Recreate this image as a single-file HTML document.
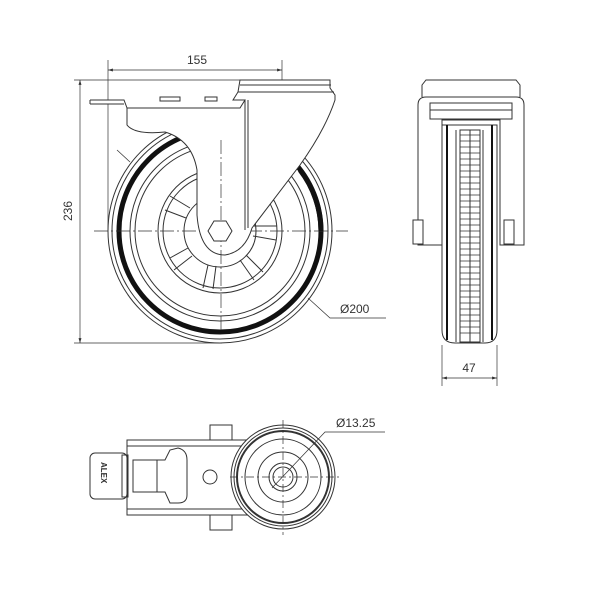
<!DOCTYPE html>
<html><head><meta charset="utf-8"><style>
html,body{margin:0;padding:0;background:#fff;}
svg{display:block;}
text{font-family:"Liberation Sans",sans-serif;font-size:12px;fill:#333;}
</style></head><body>
<svg width="600" height="600" viewBox="0 0 600 600" xmlns="http://www.w3.org/2000/svg">
<defs>
<marker id="ar" viewBox="0 0 10 10" refX="10" refY="5" markerWidth="7" markerHeight="7" orient="auto-start-reverse"><path d="M0,2 L10,5 L0,8 z" fill="#333"/></marker>
</defs>
<g stroke="#333" fill="none" stroke-width="1">
<line x1="108" y1="60" x2="108" y2="230" stroke-width="0.7"/>
<line x1="282" y1="60" x2="282" y2="100" stroke-width="0.7"/>
<line x1="108" y1="70" x2="282" y2="70" stroke-width="0.7" marker-start="url(#ar)" marker-end="url(#ar)"/>
<line x1="74" y1="80" x2="330" y2="80" stroke-width="0.7"/>
<line x1="74" y1="343" x2="222" y2="343" stroke-width="0.7"/>
<line x1="80" y1="80" x2="80" y2="343" stroke-width="0.7" marker-start="url(#ar)" marker-end="url(#ar)"/>
<circle cx="220" cy="231" r="112" fill="#fff"/>
<circle cx="220" cy="231" r="108"/>
<circle cx="220" cy="231" r="101" stroke="#111" stroke-width="5"/>
<circle cx="220" cy="231" r="90"/>
<circle cx="220" cy="231" r="85"/>
<circle cx="220" cy="231" r="62"/>
<circle cx="220" cy="231" r="57"/>
<circle cx="220" cy="231" r="36"/>
<g stroke-width="1">
<path d="M188,248 L170,258 M192,256 L174,270"/>
<path d="M208,265 L203,288 M216,266 L213,289"/>
<path d="M240,260 L254,280 M246,255 L263,272"/>
<path d="M253,236 L276,240 M254,226 L277,226"/>
<path d="M186,218 L165,210 M190,208 L170,196"/>
</g>
<line x1="94" y1="231" x2="348" y2="231" stroke-width="0.7" stroke-dasharray="14,3,2,3"/>
<path d="M90,100 L124,100 L127,108 L127,125 Q135,135 165,132 Q192,140 197,170 L197,215 Q200,255 225,255 Q245,252 252,228 L300,165 Q325,130 335,100 L335,95 L330,88 L330,80 L240,80 L238,92 L233,100 L245,100 L240,108 L127,108" fill="#fff"/>
<line x1="90" y1="100" x2="90" y2="104"/>
<line x1="90" y1="104" x2="124" y2="104"/>
<line x1="248" y1="100" x2="248" y2="228"/>
<line x1="245" y1="100" x2="245" y2="230"/>
<line x1="238" y1="92" x2="334" y2="92"/>
<line x1="240" y1="85" x2="331" y2="85"/>
<rect x="160" y="97" width="20" height="4"/>
<rect x="205" y="97" width="12" height="4"/>
<line x1="221" y1="140" x2="221" y2="330" stroke-width="0.7" stroke-dasharray="14,3,2,3"/>
<polygon points="232,231 226,241 214,241 208,231 214,221 226,221" fill="#fff"/>
<path d="M300,170 A101,101 0 0 1 321,231" stroke="#111" stroke-width="5"/>
<polyline points="308,298 330,318 386,318" stroke-width="0.7"/>
<line x1="117" y1="150" x2="130" y2="162" stroke-width="0.7"/>
<path d="M422,97 L422,85 L426,80 L516,80 L520,85 L520,97"/>
<path d="M418,245 L418,105 Q418,97 426,97 L516,97 Q524,97 524,105 L524,245 L500,245 L500,120 L442,120 L442,245 Z"/>
<rect x="430" y="103" width="82" height="16"/>
<line x1="430" y1="110" x2="512" y2="110"/>
<path d="M442,125 L442,330 Q442,343 455,343 L485,343 Q497,343 497,330 L497,125 Z" fill="#fff"/>
<line x1="447" y1="125" x2="447" y2="340" stroke="#111" stroke-width="2"/>
<line x1="492" y1="125" x2="492" y2="340" stroke="#111" stroke-width="2"/>
<line x1="456" y1="130" x2="456" y2="342"/>
<line x1="483" y1="130" x2="483" y2="342"/>
<rect x="460" y="130" width="20" height="212" stroke-width="1"/>
<line x1="470" y1="130" x2="470" y2="342"/>
<path d="M460,135 H480 M460,141 H480 M460,147 H480 M460,153 H480 M460,159 H480 M460,165 H480 M460,171 H480 M460,177 H480 M460,183 H480 M460,189 H480 M460,195 H480 M460,201 H480 M460,207 H480 M460,213 H480 M460,219 H480 M460,225 H480 M460,231 H480 M460,237 H480 M460,243 H480 M460,249 H480 M460,255 H480 M460,261 H480 M460,267 H480 M460,273 H480 M460,279 H480 M460,285 H480 M460,291 H480 M460,297 H480 M460,303 H480 M460,309 H480 M460,315 H480 M460,321 H480 M460,327 H480 M460,333 H480" stroke-width="0.8"/>
<rect x="413" y="220" width="10" height="24" fill="#fff"/>
<rect x="504" y="220" width="10" height="24" fill="#fff"/>
<line x1="442" y1="345" x2="442" y2="386" stroke-width="0.7"/>
<line x1="497" y1="345" x2="497" y2="386" stroke-width="0.7"/>
<line x1="442" y1="378" x2="497" y2="378" stroke-width="0.7" marker-start="url(#ar)" marker-end="url(#ar)"/>
<rect x="127" y="440" width="120" height="75" fill="#fff"/>
<line x1="127" y1="446" x2="247" y2="446"/>
<line x1="127" y1="509" x2="247" y2="509"/>
<rect x="90" y="453" width="37" height="46" rx="5" fill="#fff"/>
<rect x="122" y="455" width="6" height="42"/>
<path d="M133,460 L165,460 L170,450 L178,448 Q187,450 187,460 L187,495 Q187,503 178,503 L170,503 L165,492 L133,492 Z"/>
<line x1="157" y1="460" x2="157" y2="492"/>
<rect x="210" y="425" width="22" height="15"/>
<rect x="210" y="515" width="22" height="15"/>
<circle cx="210" cy="477" r="7"/>
<circle cx="283" cy="477" r="52" fill="#fff"/>
<circle cx="283" cy="477" r="49"/>
<circle cx="283" cy="477" r="46" stroke-width="2"/>
<circle cx="283" cy="477" r="38"/>
<circle cx="283" cy="477" r="25"/>
<circle cx="283" cy="477" r="14"/>
<circle cx="283" cy="477" r="10"/>
<line x1="230" y1="477" x2="340" y2="477" stroke-width="0.7" stroke-dasharray="8,3,2,3"/>
<line x1="283" y1="420" x2="283" y2="535" stroke-width="0.7" stroke-dasharray="8,3,2,3"/>
<polyline points="272,488 325,432 385,432" stroke-width="0.7"/>
</g>
<text x="197" y="64" text-anchor="middle">155</text>
<text x="0" y="0" text-anchor="middle" transform="translate(72,211) rotate(-90)">236</text>
<text x="340" y="313">Ø200</text>
<text x="469" y="372" text-anchor="middle">47</text>
<text x="336" y="427">Ø13.25</text>
<text x="0" y="0" transform="translate(101,462) rotate(90)" style="font-size:8px;font-weight:bold">ALEX</text>
</svg>
</body></html>
